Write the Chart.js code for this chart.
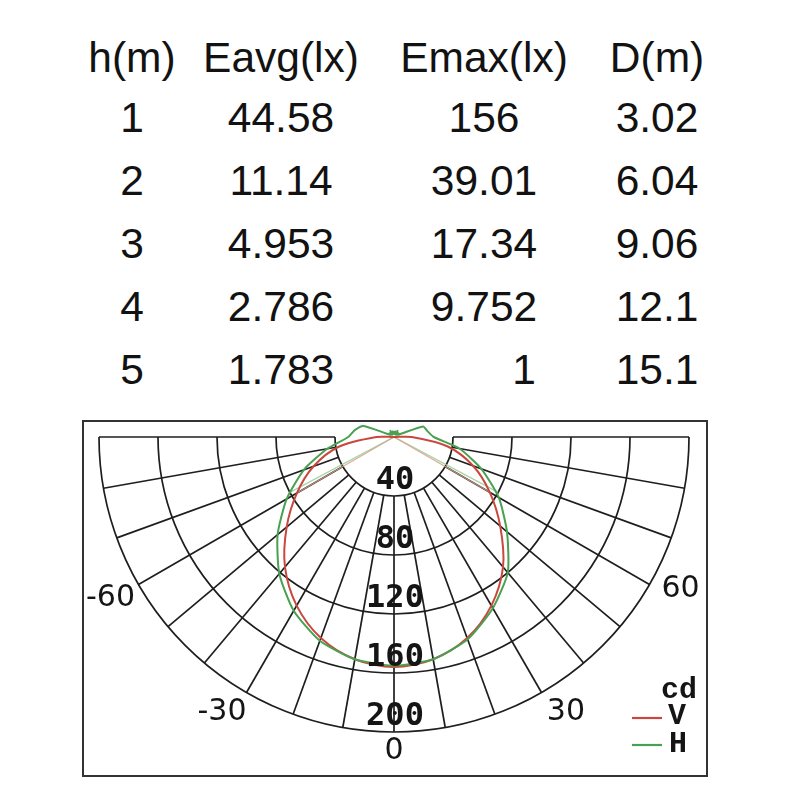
<!DOCTYPE html>
<html><head><meta charset="utf-8">
<script src="https://cdn.jsdelivr.net/npm/chart.js@4.4.1/dist/chart.umd.min.js"></script>
<style>
html,body{margin:0;padding:0;background:#fff;width:800px;height:800px;overflow:hidden;}
#table{position:absolute;left:0;top:0;width:800px;height:400px;font-family:"Liberation Sans",Arial,sans-serif;font-size:42.5px;color:#121212;}
.cell{position:absolute;white-space:nowrap;line-height:42px;height:42px;}
#wrap{position:absolute;left:0;top:400px;width:800px;height:400px;}
</style></head><body>
<div id="table"></div>
<div id="wrap"><canvas id="c"></canvas></div>
<script>
// ---------- table data ----------
const headers = ['h(m)', 'Eavg(lx)', 'Emax(lx)', 'D(m)'];
const heights = ['1', '2', '3', '4', '5'];
const eavg    = ['44.58', '11.14', '4.953', '2.786', '1.783'];
const emax    = ['156', '39.01', '17.34', '9.752', '1'];
const dist    = ['3.02', '6.04', '9.06', '12.1', '15.1'];

// ---------- polar diagram data (angle in degrees, intensity in cd) ----------
const ringValues   = [40, 80, 120, 160, 200];
const spokeAngles  = [-90, -80, -70, -60, -50, -40, -30, -20, -10, 0, 10, 20, 30, 40, 50, 60, 70, 80, 90];
const angleLabels  = [-60, -30, 0, 30, 60];
const vAngles = [-100, -90, -80, -70, -60, -50, -40, -30, -20, -10, 0, 10, 20, 30, 40, 50, 60, 70, 80, 90, 100];
const vValues = [0, 12, 38, 58, 76, 95, 115, 132, 145, 153, 156, 153, 145, 132, 115, 94, 75, 57, 37, 12, 0];
const hAngles = [-180, -170, -160, -150, -140, -130, -120, -110, -100, -90, -80, -70, -60, -50, -40, -30, -20, -10, 0,
                 10, 20, 30, 40, 50, 60, 70, 80, 90, 100, 110, 120, 130, 140, 150, 160, 170, 180];
const hValues = [2, 4, 2, 5, 2, 4, 3, 22, 27, 31, 46, 65, 84, 103, 121, 136, 147, 153, 155,
                 153, 146, 134, 120, 100, 82, 63, 45, 27, 23, 21, 3, 4, 2, 5, 2, 4, 2];
const vBeamAngles = [-60, 0, 60];
const vBeamValues = [76, 0, 76];
const hBeamAngles = [-62, 0, 62];
const hBeamValues = [80, 0, 80];

// ---------- table layout ----------
const tbl = document.getElementById('table');
const colX = [132, 281, 484, 657];
const headBase = 72;
const rowBase = [132, 195, 258, 321, 384];
function addCell(text, x, base, align) {
  const d = document.createElement('div');
  d.className = 'cell';
  d.textContent = text;
  d.style.top = (base - 35) + 'px';
  if (align === 'right') { d.style.right = (800 - x) + 'px'; }
  else { d.style.left = x + 'px'; d.style.transform = 'translateX(-50%)'; }
  tbl.appendChild(d);
}
headers.forEach((h, i) => addCell(h, colX[i], headBase, 'center'));
const cols = [heights, eavg, emax, dist];
cols.forEach((col, ci) => col.forEach((v, ri) => {
  if (ci === 2 && v.length === 1) addCell(v, 536, rowBase[ri], 'right');
  else addCell(v, colX[ci], rowBase[ri], 'center');
}));

// ---------- geometry ----------
const PX_PER_CD = 1.475;
const CX = 394, CY = 37; // pole position inside the 800x400 canvas
function toXY(angles, values) {
  return angles.map((a, i) => {
    const t = a * Math.PI / 180;
    return { x: values[i] * Math.sin(t), y: -values[i] * Math.cos(t) };
  });
}

const polarGrid = {
  id: 'polarGrid',
  beforeDatasetsDraw(chart) {
    const { ctx, scales: { x, y } } = chart;
    const cx = x.getPixelForValue(0), cy = y.getPixelForValue(0);
    const k = (x.getPixelForValue(100) - cx) / 100;
    ctx.save();
    ctx.strokeStyle = '#1e1e1e';
    ctx.lineWidth = 1.7;
    ringValues.forEach(v => { ctx.beginPath(); ctx.arc(cx, cy, v * k, 0, Math.PI); ctx.stroke(); });
    const r0 = ringValues[0] * k, r1 = ringValues[ringValues.length - 1] * k;
    spokeAngles.forEach(a => {
      const t = a * Math.PI / 180, sx = Math.sin(t), sy = Math.cos(t);
      ctx.beginPath();
      ctx.moveTo(cx + sx * r0, cy + sy * r0);
      ctx.lineTo(cx + sx * r1, cy + sy * r1);
      ctx.stroke();
    });
    ctx.restore();
  },
  afterDatasetsDraw(chart) {
    const { ctx, scales: { x, y } } = chart;
    const cx = x.getPixelForValue(0), cy = y.getPixelForValue(0);
    const k = (x.getPixelForValue(100) - cx) / 100;
    ctx.save();
    // ring value labels
    ctx.fillStyle = '#151515';
    ctx.textAlign = 'center';
    ctx.textBaseline = 'middle';
    ctx.font = 'bold 32px "DejaVu Sans Mono", monospace';
    ringValues.forEach(v => ctx.fillText(String(v), cx + 1, cy + v * k - 15));
    // angle labels, placed just outside the outer ring
    ctx.font = '30px "DejaVu Sans", sans-serif';
    angleLabels.forEach(a => {
      const t = (a + Math.sign(a) * 2) * Math.PI / 180;
      const rr = (a === 0 ? 213 : 220) * k;
      const txt = a < 0 ? '-' + Math.abs(a) : String(a);
      ctx.fillText(txt, cx + Math.sin(t) * rr + (a === -60 ? 3 : 0), cy + Math.cos(t) * rr + (a === -60 ? 9 : 0));
    });
    // frame
    ctx.strokeStyle = '#333';
    ctx.lineWidth = 2;
    ctx.strokeRect(83, 21, 624, 355);
    // legend
    ctx.font = 'bold 30px "Liberation Mono", "Courier New", monospace';
    ctx.fillStyle = '#151515';
    ctx.fillText('cd', 679, 290);
    ctx.fillText('V', 677, 316);
    ctx.fillText('H', 678, 344);
    ctx.lineWidth = 2.2;
    ctx.strokeStyle = chart.data.datasets[0].borderColor;
    ctx.beginPath(); ctx.moveTo(632, 318); ctx.lineTo(662, 318); ctx.stroke();
    ctx.strokeStyle = chart.data.datasets[1].borderColor;
    ctx.beginPath(); ctx.moveTo(632, 345); ctx.lineTo(662, 345); ctx.stroke();
    ctx.restore();
  }
};

new Chart(document.getElementById('c'), {
  type: 'scatter',
  data: {
    datasets: [
      { label: 'V', data: toXY(vAngles, vValues), showLine: true, borderColor: 'rgb(200,72,62)', borderWidth: 2, pointRadius: 0, tension: 0.3, fill: false, order: 2 },
      { label: 'H', data: toXY(hAngles, hValues), showLine: true, borderColor: 'rgb(72,160,80)', borderWidth: 2, pointRadius: 0, tension: 0.2, fill: false, order: 1 },
      { label: 'V beam', data: toXY(vBeamAngles, vBeamValues), showLine: true, borderColor: 'rgba(215,160,140,0.85)', borderWidth: 1.3, pointRadius: 0, tension: 0, order: 3 },
      { label: 'H beam', data: toXY(hBeamAngles, hBeamValues), showLine: true, borderColor: 'rgba(150,205,150,0.85)', borderWidth: 1.3, pointRadius: 0, tension: 0, order: 3 }
    ]
  },
  options: {
    responsive: true,
    maintainAspectRatio: false,
    animation: false,
    layout: { padding: 0 },
    plugins: { legend: { display: false }, tooltip: { enabled: false } },
    scales: {
      x: { type: 'linear', display: false, min: -CX / PX_PER_CD, max: (800 - CX) / PX_PER_CD },
      y: { type: 'linear', display: false, min: -(400 - CY) / PX_PER_CD, max: CY / PX_PER_CD }
    }
  },
  plugins: [polarGrid]
});
</script>
</body></html>
